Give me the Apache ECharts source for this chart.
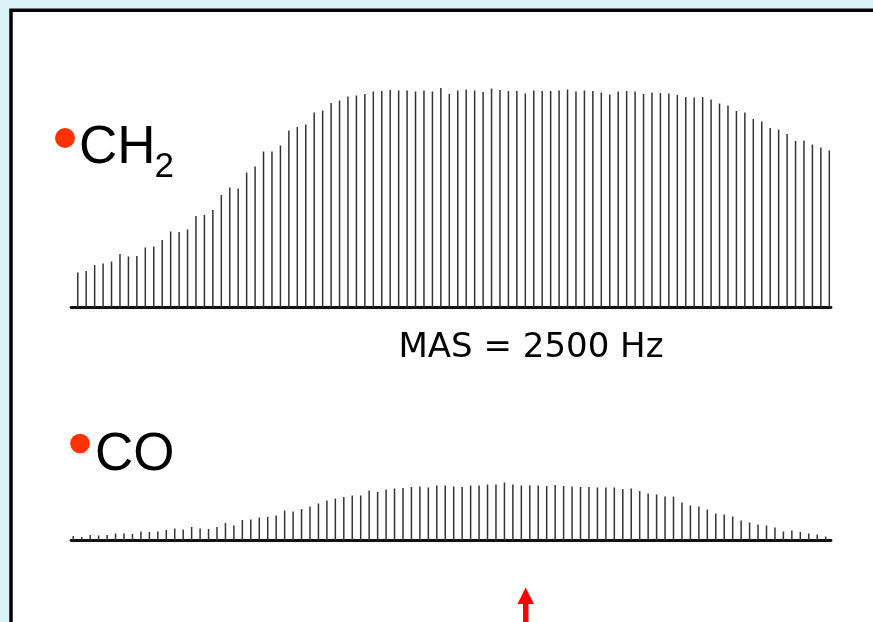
<!DOCTYPE html>
<html>
<head>
<meta charset="utf-8">
<script src="https://cdn.jsdelivr.net/npm/echarts@6/dist/echarts.min.js"></script>
<style>
  html, body { margin: 0; padding: 0; background: #daf3f8; }
  #chart { width: 873px; height: 622px; }
</style>
</head>
<body>
<div id="chart"></div>
<script>
// Spinning-sideband intensities (arbitrary units), sideband index 0..89
const ch2Intensity = [35,36.5,42.5,44,46,53.5,51,51.5,60,61,
  67.5,76,75.5,78,91.5,92.5,97.5,112.5,120,119,
  135,141,156,156,162,177,180.5,183,195,197,
  204.5,207,211,212,213.5,216,216.5,217.5,217,217,
  216,217,216,219.5,213.5,217,218,217,215.5,219,
  217.5,216.5,216.5,214,217,216.5,216.5,217,218,216,
  217,216.5,215,213,216,216.5,216,213.5,215,214.5,
  214,212.5,210.5,210,210.5,208,204,202,196.5,195,
  188.5,186,179.5,178,173.5,166.5,167,163,160,157];
const coIntensity = [4.5,3.5,5.5,5,5.5,7,7,6.5,9,8.5,
  9,10.5,12,11,13.5,12,11.5,13.5,17.5,15,
  20.5,21,23,23.5,25,30,29,31.5,34,37,
  40,42,43.5,45,45,50,48.5,51,52,52.5,
  53.5,54,53,55,55,54,53.5,55,55,56,
  56,58,56,55,55,55,54.5,55.5,54.5,54,
  53.5,53.5,53,53,53,51.5,52,49.5,47,46,
  44,44,38,35,34,31,27,26,24,20,
  18,16,15,13,9,10,8.5,7,6,4];
const labels = { ch2: 'CH', ch2Sub: '2', co: 'CO', mas: 'MAS = 2500 Hz' };

const toPairs = arr => arr.map((v, i) => [i, v]);

const chart = echarts.init(document.getElementById('chart'), null, { renderer: 'canvas' });

const hiddenY = (gi, max) => ({
  type: 'value', gridIndex: gi, min: 0, max: max, show: false
});
const baseX = (gi, min, max) => ({
  type: 'value', gridIndex: gi, min: min, max: max,
  axisLine: { show: true, onZero: false, lineStyle: { color: '#111', width: 2.8 } },
  axisTick: { show: false }, axisLabel: { show: false }, splitLine: { show: false }
});

chart.setOption({
  backgroundColor: '#daf3f8',
  animation: false,
  graphic: [
    { type: 'rect', z: -10, shape: { x: 11, y: 10.3, width: 900, height: 700 },
      style: { fill: '#ffffff', stroke: '#000000', lineWidth: 3.5 } },
    { type: 'circle', shape: { cx: 65, cy: 138, r: 10 }, style: { fill: '#ff3300' } },
    { type: 'text', x: 79, y: 148.5, style: { text: labels.ch2, font: '53px "Liberation Sans", Arial, sans-serif', fill: '#000', verticalAlign: 'middle', align: 'left' } },
    { type: 'text', x: 154.5, y: 167.5, style: { text: labels.ch2Sub, font: '35px "Liberation Sans", Arial, sans-serif', fill: '#000', verticalAlign: 'middle', align: 'left' } },
    { type: 'circle', shape: { cx: 80, cy: 443.5, r: 9.8 }, style: { fill: '#ff3300' } },
    { type: 'text', x: 95, y: 455, style: { text: labels.co, font: '53px "Liberation Sans", Arial, sans-serif', fill: '#000', verticalAlign: 'middle', align: 'left' } },
    { type: 'text', x: 531, y: 348.5, style: { text: labels.mas, font: '34px "DejaVu Sans", sans-serif', fill: '#000', verticalAlign: 'middle', align: 'center' } },
    { type: 'polygon', shape: { points: [[525.7, 587.5], [517.5, 604], [534, 604]] }, style: { fill: '#ff0000' } },
    { type: 'rect', shape: { x: 523, y: 603, width: 5.5, height: 20 }, style: { fill: '#ff0000' } }
  ],
  grid: [
    { left: 71, width: 760, top: 87.5, height: 220 },
    { left: 71, width: 760, top: 480.5, height: 60 }
  ],
  xAxis: [ baseX(0, -0.8, 89.2), baseX(1, -0.27, 89.63) ],
  yAxis: [ hiddenY(0, 220), hiddenY(1, 60) ],
  series: [
    { type: 'bar', xAxisIndex: 0, yAxisIndex: 0, data: toPairs(ch2Intensity),
      barWidth: 1.5, itemStyle: { color: '#333333' }, silent: true },
    { type: 'bar', xAxisIndex: 1, yAxisIndex: 1, data: toPairs(coIntensity),
      barWidth: 1.5, itemStyle: { color: '#333333' }, silent: true }
  ]
});
</script>
</body>
</html>
